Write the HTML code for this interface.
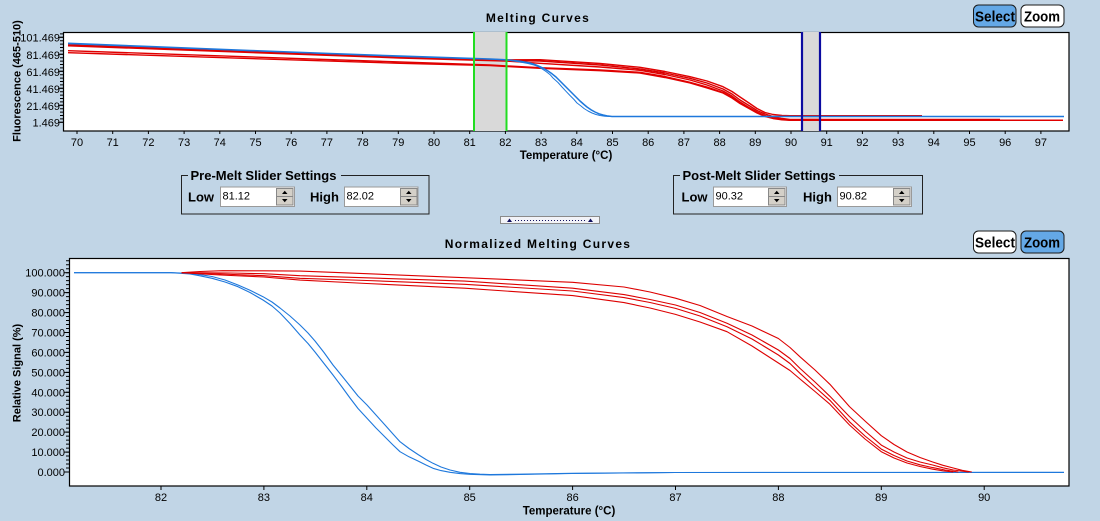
<!DOCTYPE html>
<html><head><meta charset="utf-8"><style>
html,body{margin:0;padding:0;background:#c1d5e6;}
svg{display:block;font-family:"Liberation Sans",Arial,sans-serif;}
</style></head><body>
<svg width="1100" height="521" viewBox="0 0 1100 521" xmlns="http://www.w3.org/2000/svg">
<defs>
<clipPath id="c1"><rect x="63" y="32" width="1006" height="99"/></clipPath>
<clipPath id="c2"><rect x="69" y="258" width="1000" height="228"/></clipPath>
</defs>
<rect width="1100" height="521" fill="#c1d5e6"/>

<!-- ===== TOP CHART ===== -->
<text x="538" y="22" text-anchor="middle" font-size="12" font-weight="bold" letter-spacing="1.3">Melting Curves</text>
<rect x="63.5" y="32.5" width="1005.5" height="98.5" fill="#fff" stroke="#000" stroke-width="1.2"/>
<g clip-path="url(#c1)">
<rect x="474" y="32" width="32.5" height="99" fill="#d9d9d9"/>
<rect x="802" y="32" width="18" height="99" fill="#d9d9d9"/>
<g fill="none" stroke-linejoin="round">
<polyline stroke="#e00000" stroke-width="1.4" points="68,44.8 400,57 505,59.8 540,59.7 600,63.5 640,67.3 665,71.5 690,76.7 707,81 723,86.7 732,91.5 740,97 749,103 757,108.5 765,112.5 773,114.5 782,115.5 790,115.7 922,115.7"/>
<polyline stroke="#d80000" stroke-width="1.4" points="68,45.3 400,57.5 505,60.5 540,61 600,65 640,69 665,73 690,78.3 707,83 723,89 732,94 740,100 749,105.5 757,110.5 765,114 773,116.5 782,118.5 790,119.5 1000,119.5"/>
<polyline stroke="#e00000" stroke-width="1.4" points="68,45.8 400,58 505,61 540,63.3 600,67 640,70.3 665,74.5 690,80 707,85 723,91 732,96 740,102 749,107.5 757,112 765,115.5 773,117.7 782,119.3 790,120 1063,120.3"/>
<polyline stroke="#e00000" stroke-width="1.4" points="68,50.7 400,62 490,65 540,67.7 600,70 640,72.3 665,76.5 690,82.3 707,87 723,92.5 732,97.5 740,103 749,108 757,112.5 765,116 773,118 782,119.5 790,120 1000,120"/>
<polyline stroke="#e00000" stroke-width="1.4" points="68,52.7 400,63.3 490,65.6 540,68.3 600,70.7 640,73 665,77.5 690,83 707,88 723,93 732,98 740,103.5 749,108.5 757,113 765,116.5 773,118.5 782,119.8 790,120.3 1063,120.3"/>
<polyline stroke="#1e78dc" stroke-width="1.5" points="68,43.3 150,46.5 250,50.5 330,53.5 400,56 490,59 506,59.7 520,61.2 530,63 536,65 540,66.7 544,68.6 548,71 552,73.8 556,77 560,81 565,86 569,90 573,94 577,98 580,101 584,104.5 587,107 591,109.8 595,112 599,113.8 603,115 607,115.9 612,116.5 1064,116.5"/>
<polyline stroke="#1e78dc" stroke-width="1" points="68,43.8 400,56.5 490,59.3 506,60 518,61.6 528,63.5 534,65 538,66.5 542,68.8 546,71.5 550,74.6 553,78 558,82.5 562,87 566,91.3 570,95.5 574,99.5 577,103 581,106 584,108.5 588,111 592,113 596,114.5 600,115.5 605,116.2 610,116.5"/>
</g>
<line x1="474" y1="32" x2="474" y2="131" stroke="#22dd22" stroke-width="2"/>
<line x1="506.5" y1="32" x2="506.5" y2="131" stroke="#22dd22" stroke-width="2"/>
<line x1="802" y1="32" x2="802" y2="131" stroke="#0b0ba0" stroke-width="2.2"/>
<line x1="820" y1="32" x2="820" y2="131" stroke="#0b0ba0" stroke-width="2.2"/>
</g>
<!-- top y ticks -->
<line x1="61.5" y1="122.8" x2="61.5" y2="33" stroke="#000" stroke-width="3" stroke-dasharray="1 2.4"/>
<g stroke="#000" stroke-width="1">
<line x1="58" y1="37.3" x2="63" y2="37.3"/><line x1="58" y1="54.3" x2="63" y2="54.3"/>
<line x1="58" y1="71.3" x2="63" y2="71.3"/><line x1="58" y1="88.3" x2="63" y2="88.3"/>
<line x1="58" y1="105.3" x2="63" y2="105.3"/><line x1="58" y1="122.3" x2="63" y2="122.3"/>
</g>
<g font-size="11" text-anchor="end">
<text x="60" y="41.5">101.469</text><text x="60" y="58.8">81.469</text>
<text x="60" y="75.8">61.469</text><text x="60" y="92.8">41.469</text>
<text x="60" y="109.8">21.469</text><text x="60" y="126.5">1.469</text>
</g>
<text transform="translate(20.5,81) rotate(-90)" text-anchor="middle" font-size="11" font-weight="bold">Fluorescence (465-510)</text>
<!-- top x ticks -->
<line x1="76.5" y1="132.5" x2="1060" y2="132.5" stroke="#000" stroke-width="3" stroke-dasharray="1 34.7"/>
<g font-size="11" text-anchor="middle">
<text x="77" y="146">70</text><text x="112.7" y="146">71</text><text x="148.4" y="146">72</text><text x="184.1" y="146">73</text>
<text x="219.8" y="146">74</text><text x="255.5" y="146">75</text><text x="291.2" y="146">76</text><text x="326.9" y="146">77</text>
<text x="362.6" y="146">78</text><text x="398.3" y="146">79</text><text x="434" y="146">80</text><text x="469.7" y="146">81</text>
<text x="505.4" y="146">82</text><text x="541.1" y="146">83</text><text x="576.8" y="146">84</text><text x="612.5" y="146">85</text>
<text x="648.2" y="146">86</text><text x="683.9" y="146">87</text><text x="719.6" y="146">88</text><text x="755.3" y="146">89</text>
<text x="791" y="146">90</text><text x="826.7" y="146">91</text><text x="862.4" y="146">92</text><text x="898.1" y="146">93</text>
<text x="933.8" y="146">94</text><text x="969.5" y="146">95</text><text x="1005.2" y="146">96</text><text x="1040.9" y="146">97</text>
</g>
<text x="566" y="159" text-anchor="middle" font-size="11.5" font-weight="bold">Temperature (°C)</text>

<!-- top buttons -->
<rect x="973.5" y="5" width="42.5" height="22" rx="5" fill="#64a8e6" stroke="#1a1a1a"/>
<text x="975" y="21.5" font-size="15" font-weight="bold" textLength="40" lengthAdjust="spacingAndGlyphs">Select</text>
<rect x="1021" y="5" width="43" height="22" rx="5" fill="#fff" stroke="#1a1a1a"/>
<text x="1024" y="21.5" font-size="15" font-weight="bold" textLength="36" lengthAdjust="spacingAndGlyphs">Zoom</text>

<!-- ===== SLIDER SETTINGS ===== -->
<g>
<rect x="181.5" y="175.5" width="247.5" height="38.5" fill="none" stroke="#222"/>
<rect x="188" y="169" width="153" height="12" fill="#c1d5e6"/>
<text x="190.5" y="180" font-size="13" font-weight="bold">Pre-Melt Slider Settings</text>
<text x="188" y="201.5" font-size="13" font-weight="bold">Low</text>
<rect x="220.5" y="187" width="74" height="19.5" fill="#fff" stroke="#9a9a9a"/>
<text x="222.5" y="199.5" font-size="11">81.12</text>
<rect x="276.5" y="188.5" width="16.5" height="8" fill="#d4d0c8" stroke="#888"/>
<rect x="276.5" y="196.5" width="16.5" height="8.5" fill="#d4d0c8" stroke="#888"/>
<path d="M282 194 L287.5 194 L284.75 190.8Z M282 199 L287.5 199 L284.75 202.2Z" fill="#000"/>
<text x="310" y="201.5" font-size="13" font-weight="bold">High</text>
<rect x="344.5" y="187" width="73.5" height="19.5" fill="#fff" stroke="#9a9a9a"/>
<text x="346.5" y="199.5" font-size="11">82.02</text>
<rect x="400.5" y="188.5" width="16.5" height="8" fill="#d4d0c8" stroke="#888"/>
<rect x="400.5" y="196.5" width="16.5" height="8.5" fill="#d4d0c8" stroke="#888"/>
<path d="M406 194 L411.5 194 L408.75 190.8Z M406 199 L411.5 199 L408.75 202.2Z" fill="#000"/>
</g>
<g>
<rect x="673.5" y="175.5" width="249" height="38.5" fill="none" stroke="#222"/>
<rect x="680" y="169" width="159" height="12" fill="#c1d5e6"/>
<text x="682.5" y="180" font-size="13" font-weight="bold">Post-Melt Slider Settings</text>
<text x="681.5" y="201.5" font-size="13" font-weight="bold">Low</text>
<rect x="713.5" y="187" width="73" height="19.5" fill="#fff" stroke="#9a9a9a"/>
<text x="715.5" y="199.5" font-size="11">90.32</text>
<rect x="768.5" y="188.5" width="16.5" height="8" fill="#d4d0c8" stroke="#888"/>
<rect x="768.5" y="196.5" width="16.5" height="8.5" fill="#d4d0c8" stroke="#888"/>
<path d="M774 194 L779.5 194 L776.75 190.8Z M774 199 L779.5 199 L776.75 202.2Z" fill="#000"/>
<text x="803" y="201.5" font-size="13" font-weight="bold">High</text>
<rect x="837.5" y="187" width="74" height="19.5" fill="#fff" stroke="#9a9a9a"/>
<text x="839.5" y="199.5" font-size="11">90.82</text>
<rect x="893.5" y="188.5" width="16.5" height="8" fill="#d4d0c8" stroke="#888"/>
<rect x="893.5" y="196.5" width="16.5" height="8.5" fill="#d4d0c8" stroke="#888"/>
<path d="M899 194 L904.5 194 L901.75 190.8Z M899 199 L904.5 199 L901.75 202.2Z" fill="#000"/>
</g>

<!-- splitter -->
<rect x="500.5" y="216.5" width="99" height="7" fill="#f2f3f8" stroke="#8a8a8a"/>
<path d="M507 222 L512 222 L509.5 218.5Z M588 222 L593 222 L590.5 218.5Z" fill="#101060"/>
<line x1="515" y1="220.5" x2="586" y2="220.5" stroke="#101060" stroke-width="1" stroke-dasharray="1 2"/>

<!-- ===== BOTTOM CHART ===== -->
<text x="538" y="248" text-anchor="middle" font-size="12" font-weight="bold" letter-spacing="1.3">Normalized Melting Curves</text>
<rect x="973.5" y="231" width="42.5" height="22" rx="5" fill="#fff" stroke="#1a1a1a"/>
<text x="975" y="247.5" font-size="15" font-weight="bold" textLength="40" lengthAdjust="spacingAndGlyphs">Select</text>
<rect x="1021" y="231" width="43" height="22" rx="5" fill="#64a8e6" stroke="#1a1a1a"/>
<text x="1024" y="247.5" font-size="15" font-weight="bold" textLength="36" lengthAdjust="spacingAndGlyphs">Zoom</text>

<rect x="69.5" y="258.5" width="999.5" height="227.5" fill="#fff" stroke="#000" stroke-width="1.2"/>
<g clip-path="url(#c2)" fill="none" stroke-linejoin="round" stroke-width="1.1">
<polyline stroke="#1e78dc" points="74,272.7 171,272.7 181,273 190,273.6 200,274.6 212,276.5 225,280 238,285 250,290.3 263,296.7 272,302 280,308 290,316 300,325 308,333 315,341 324,352.5 333,365 342,376 350,386 358,396 367,405 376,415 385,425 393,434 400,441.7 409,448.5 418,454.5 426,459.5 433,463.3 441,467 450,470 460,472.3 470,473.5 480,474.2 490,474.5 520,474.2 572,473.3 675,472.5 1064,472.5"/>
<polyline stroke="#1e78dc" points="74,272.7 171,272.7 181,273.3 190,274 200,275.8 212,278.3 225,282 238,286.7 250,292.5 263,300 272,306 280,313 290,323.5 300,335 308,343.5 315,352 324,363.5 333,375 342,387 350,398 358,408.5 367,418.3 376,428 385,437 393,445 400,451.7 409,456.8 418,461 426,465 433,468.3 441,470.6 450,472.3 460,473.6 470,474.3 490,475 520,474.5 572,473.5 675,472.5 1064,472.3"/>
<polyline stroke="#dd0000" points="181.6,272.7 200,271.5 222.7,270.7 263.9,270.8 299.9,271.1 366.8,273.7 464.6,277.7 572.6,282.3 624,287 650,292 675.5,298.2 700,305.5 727,316.5 752,326 778.4,338.5 790,347.5 800,356.8 815,370 829.9,384.3 849.5,406.6 865,421 881.3,435.7 894,444.5 907,452 920,457.5 932.7,462 943,465.3 953.3,468 962,470.3 971.8,472"/>
<polyline stroke="#dd0000" points="191.9,272.7 230,273 263.9,273.7 299.9,275.7 366.8,277.8 464.6,281.1 572.6,288.2 624,294.6 650,299.5 675.5,305 700,312.5 727,323.3 752,335 778.4,350 790,358.5 800,368.4 815,382 829.9,396.3 849.5,416.6 865,431 881.3,445.1 894,452 907,458 920,462 932.7,465 943,467.8 953.3,470 968.7,472"/>
<polyline stroke="#dd0000" points="181.6,272.7 220,274 263.9,275.7 299.9,278.3 366.8,280.5 464.6,284.3 572.6,291 624,297.6 650,302.5 675.5,308.4 700,316 727,326.7 752,339 778.4,355 790,363.5 800,373.3 815,387 829.9,400.3 849.5,421.8 865,436 881.3,449.1 894,455.5 907,461 920,464.8 932.7,467.6 945,470 958.4,472"/>
<polyline stroke="#dd0000" points="181.6,272.7 220,275 263.9,277 299.9,280.1 366.8,283.5 464.6,288.2 572.6,295.6 624,302.6 650,308 675.5,314.4 700,322 727,331.7 752,346 778.4,363 790,370.5 800,379 815,391.5 829.9,404.2 849.5,425 865,439 881.3,451.7 894,458 907,463 920,466.5 932.7,469.2 943,470.8 953.3,472"/>
</g>
<!-- bottom y ticks -->
<line x1="67.5" y1="472.5" x2="67.5" y2="259" stroke="#000" stroke-width="3" stroke-dasharray="1 2.986"/>
<g stroke="#000">
<line x1="64" y1="472" x2="69" y2="472"/><line x1="64" y1="452.1" x2="69" y2="452.1"/>
<line x1="64" y1="432.1" x2="69" y2="432.1"/><line x1="64" y1="412.2" x2="69" y2="412.2"/>
<line x1="64" y1="392.3" x2="69" y2="392.3"/><line x1="64" y1="372.4" x2="69" y2="372.4"/>
<line x1="64" y1="352.4" x2="69" y2="352.4"/><line x1="64" y1="332.5" x2="69" y2="332.5"/>
<line x1="64" y1="312.6" x2="69" y2="312.6"/><line x1="64" y1="292.6" x2="69" y2="292.6"/>
<line x1="64" y1="272.7" x2="69" y2="272.7"/>
</g>
<g font-size="11" text-anchor="end">
<text x="65" y="476">0.000</text><text x="65" y="456.1">10.000</text>
<text x="65" y="436.1">20.000</text><text x="65" y="416.2">30.000</text>
<text x="65" y="396.3">40.000</text><text x="65" y="376.4">50.000</text>
<text x="65" y="356.4">60.000</text><text x="65" y="336.5">70.000</text>
<text x="65" y="316.6">80.000</text><text x="65" y="296.6">90.000</text>
<text x="65" y="276.7">100.000</text>
</g>
<text transform="translate(20.5,373) rotate(-90)" text-anchor="middle" font-size="11" font-weight="bold">Relative Signal (%)</text>
<!-- bottom x ticks -->
<g stroke="#000">
<line x1="161" y1="486" x2="161" y2="490"/><line x1="263.9" y1="486" x2="263.9" y2="490"/>
<line x1="366.8" y1="486" x2="366.8" y2="490"/><line x1="469.7" y1="486" x2="469.7" y2="490"/>
<line x1="572.6" y1="486" x2="572.6" y2="490"/><line x1="675.5" y1="486" x2="675.5" y2="490"/>
<line x1="778.4" y1="486" x2="778.4" y2="490"/><line x1="881.3" y1="486" x2="881.3" y2="490"/>
<line x1="984.2" y1="486" x2="984.2" y2="490"/>
</g>
<g font-size="11" text-anchor="middle">
<text x="161" y="501">82</text><text x="263.9" y="501">83</text><text x="366.8" y="501">84</text>
<text x="469.7" y="501">85</text><text x="572.6" y="501">86</text><text x="675.5" y="501">87</text>
<text x="778.4" y="501">88</text><text x="881.3" y="501">89</text><text x="984.2" y="501">90</text>
</g>
<text x="569" y="514.5" text-anchor="middle" font-size="11.5" font-weight="bold">Temperature (°C)</text>
</svg>
</body></html>
